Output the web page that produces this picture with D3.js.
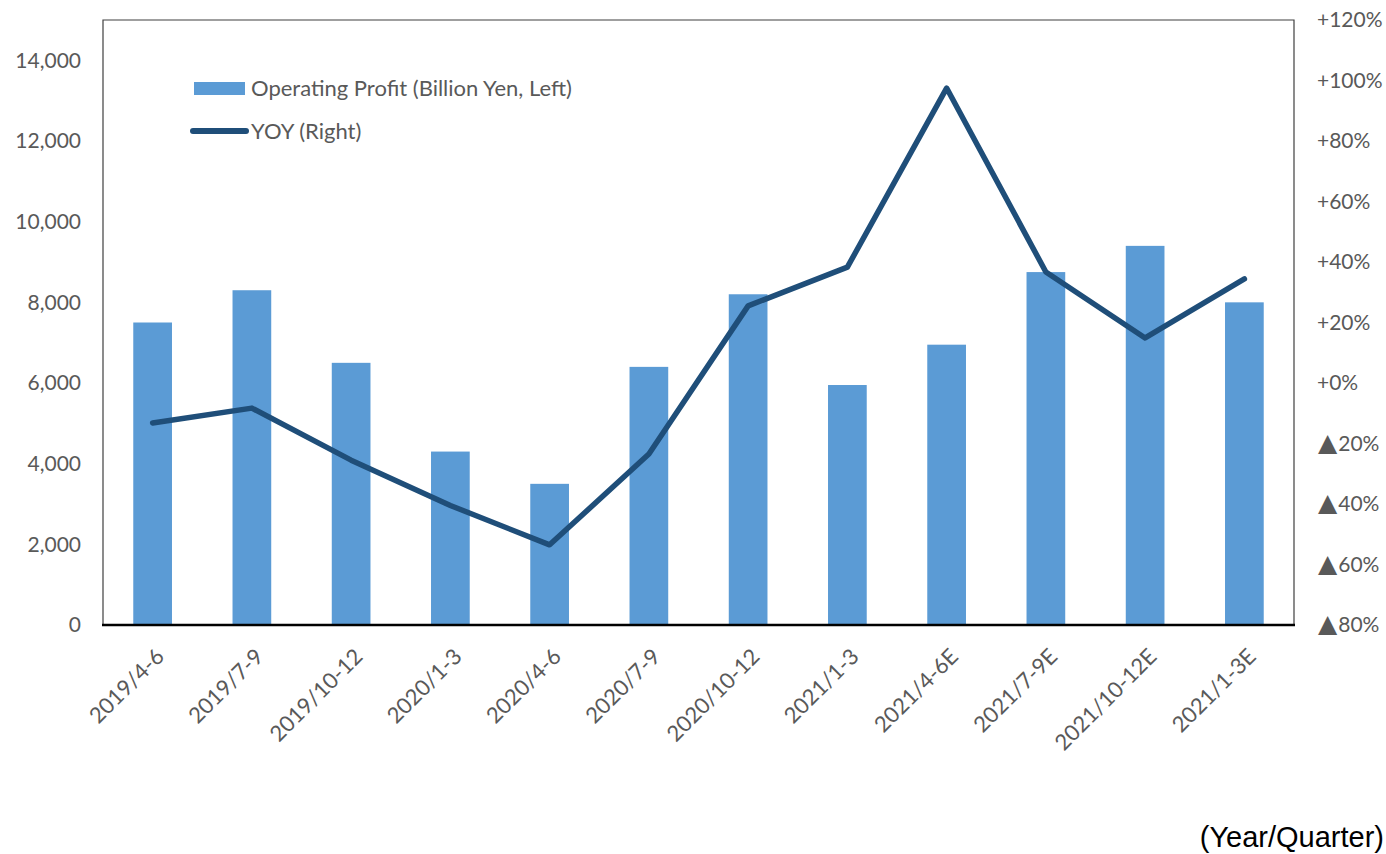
<!DOCTYPE html>
<html>
<head>
<meta charset="utf-8">
<script src="https://cdn.jsdelivr.net/npm/d3@7"></script>
<style>
  body { margin: 0; background: #fff; }
  .tick text { font-family: Lato, "Open Sans", sans-serif; font-size: 21px; fill: #595959; }
  .tick text.xlab { font-size: 22px; }
  .legend { font-family: Lato, "Open Sans", sans-serif; font-size: 22px; fill: #595959; }
</style>
</head>
<body>
<div id="canvas-container"></div>
<script>
var quarters = ["2019/4-6", "2019/7-9", "2019/10-12", "2020/1-3", "2020/4-6", "2020/7-9",
    "2020/10-12", "2021/1-3", "2021/4-6E", "2021/7-9E", "2021/10-12E", "2021/1-3E"];
var profit = [7500, 8300, 6500, 4300, 3500, 6400, 8200, 5950, 6950, 8750, 9400, 8000];
var yoy = [-13.2, -8.3, -25.5, -40.5, -53.5, -23.5, 25.5, 38.3, 97.5, 36.7, 14.9, 34.4];
var leftTicks = [0, 2000, 4000, 6000, 8000, 10000, 12000, 14000];
var rightTicks = [-80, -60, -40, -20, 0, 20, 40, 60, 80, 100, 120];

var W = 1386, H = 854;
var plotL = 103, plotR = 1294, plotT = 20, plotB = 625;

var svg = d3.select("#canvas-container").append("svg")
    .attr("width", W)
    .attr("height", H);

var x = d3.scaleBand().domain(quarters).range([plotL, plotR]).paddingInner(0.61).paddingOuter(0.305);
var yL = d3.scaleLinear().domain([0, 15000]).range([plotB, plotT]);
var yR = d3.scaleLinear().domain([-80, 120]).range([plotB, plotT]);

// bars
svg.selectAll("rect.bar").data(profit).enter().append("rect")
    .attr("class", "bar")
    .attr("x", function (d, i) { return x(quarters[i]); })
    .attr("width", x.bandwidth())
    .attr("y", function (d) { return yL(d); })
    .attr("height", function (d) { return plotB - yL(d); })
    .attr("fill", "#5B9BD5");

// frame
svg.append("path")
    .attr("d", "M" + plotL + "," + plotB + "V" + plotT + "H" + plotR + "V" + plotB)
    .attr("fill", "none")
    .attr("stroke", "#404040")
    .attr("stroke-width", 1.2);

// yoy line
var line = d3.line()
    .x(function (d, i) { return x(quarters[i]) + x.bandwidth() / 2; })
    .y(function (d) { return yR(d); });

svg.append("path")
    .datum(yoy)
    .attr("d", line)
    .attr("fill", "none")
    .attr("stroke", "#1F4E79")
    .attr("stroke-width", 5.5)
    .attr("stroke-linecap", "round")
    .attr("stroke-linejoin", "round");

// bottom axis line
svg.append("line")
    .attr("x1", plotL - 1).attr("x2", plotR + 1)
    .attr("y1", plotB).attr("y2", plotB)
    .attr("stroke", "#000")
    .attr("stroke-width", 2.5);

// left axis
var gl = svg.append("g")
    .attr("transform", "translate(" + plotL + ",0)")
    .call(d3.axisLeft(yL).tickValues(leftTicks).tickSize(0).tickPadding(22).tickFormat(d3.format(",")));
gl.select(".domain").remove();

// right axis, negatives shown with a big triangle
var gr = svg.append("g")
    .attr("transform", "translate(" + plotR + ",0)")
    .call(d3.axisRight(yR).tickValues(rightTicks).tickSize(0).tickPadding(23).tickFormat(""));
gr.select(".domain").remove();
gr.selectAll(".tick text").each(function (v) {
    var t = d3.select(this);
    if (v < 0) {
        t.append("tspan")
            .attr("font-family", "DejaVu Sans")
            .attr("font-size", 25)
            .attr("dx", 1)
            .text("\u25B2");
        t.append("tspan").attr("dx", 1).text(Math.abs(v) + "%");
    } else {
        t.text("+" + v + "%");
    }
});

// x axis labels
var gx = svg.append("g")
    .attr("transform", "translate(0," + plotB + ")")
    .call(d3.axisBottom(x).tickSize(0).tickPadding(0));
gx.select(".domain").remove();
gx.selectAll(".tick text")
    .attr("class", "xlab")
    .attr("text-anchor", "end")
    .attr("transform", "translate(2,22) rotate(-45)")
    .attr("dy", "0.7em")
    .attr("y", 0);

// legend
svg.append("rect")
    .attr("x", 194).attr("y", 82)
    .attr("width", 51).attr("height", 13)
    .attr("fill", "#5B9BD5");
svg.append("text").attr("class", "legend")
    .attr("x", 251).attr("y", 96)
    .text("Operating Profit (Billion Yen, Left)");
svg.append("line")
    .attr("x1", 193).attr("x2", 246)
    .attr("y1", 131).attr("y2", 131)
    .attr("stroke", "#1F4E79")
    .attr("stroke-width", 6)
    .attr("stroke-linecap", "round");
svg.append("text").attr("class", "legend")
    .attr("x", 251).attr("y", 139)
    .text("YOY (Right)");

// unit note
svg.append("text")
    .attr("x", 1384).attr("y", 847)
    .attr("text-anchor", "end")
    .attr("font-family", "Liberation Sans, Arial, sans-serif")
    .attr("font-size", 29)
    .attr("fill", "#000")
    .text("(Year/Quarter)");
</script>
</body>
</html>
